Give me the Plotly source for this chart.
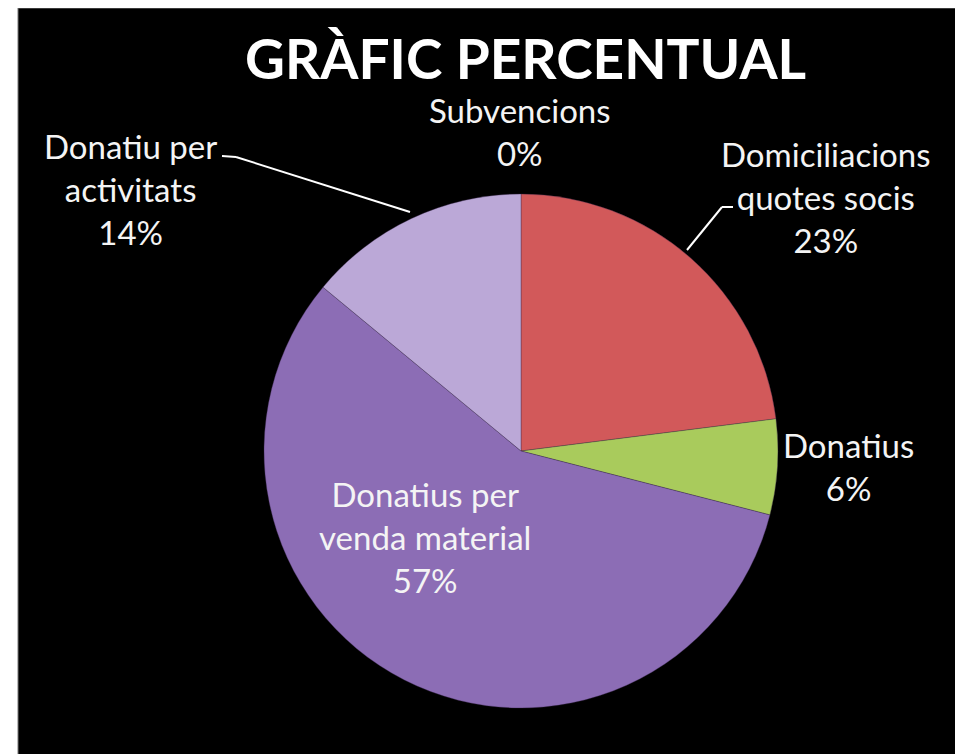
import plotly.graph_objects as go

# ---- data ----
categories = ["Subvencions", "Domiciliacions quotes socis", "Donatius",
              "Donatius per venda material", "Donatiu per activitats"]
display_labels = ["Subvencions", "Domiciliacions<br>quotes socis", "Donatius",
                  "Donatius per<br>venda material", "Donatiu per<br>activitats"]
values = [0, 23, 6, 57, 14]
colors = ["#4F81BD", "#D2595A", "#A9CB5C", "#8C6DB5", "#BBA8D7"]
title_text = "GRÀFIC PERCENTUAL"

W, H = 963, 754
OFF = 8  # page body margin offset

def px(x, y):
    return (x - OFF) / W, 1 - (y - OFF) / H

total = sum(values)
percents = [round(100 * v / total) for v in values]

# pie geometry (pixels, page coordinates)
cx, cy, r = 521, 451, 257
dx0, dy1 = px(cx - r, cy - r)
dx1, dy0 = px(cx + r, cy + r)

fig = go.Figure()
fig.add_trace(go.Pie(
    labels=categories,
    values=values,
    sort=False,
    direction="clockwise",
    rotation=0,
    marker=dict(colors=colors, line=dict(color="rgba(60,40,80,0.35)", width=1)),
    textinfo="none",
    hoverinfo="label+percent",
    showlegend=False,
    domain=dict(x=[dx0, dx1], y=[dy0, dy1]),
))

# background black panel
x0, _ = px(18, 7)
x1, _ = px(957, 754)
shapes = [dict(type="rect", xref="paper", yref="paper", x0=x0, x1=x1, y0=0, y1=1,
               fillcolor="black", line=dict(color="#777777", width=1), layer="below")]

# leader lines (pixel paths)
def line(pts):
    out = []
    for (a, b), (c, d) in zip(pts[:-1], pts[1:]):
        xa, ya = px(a, b)
        xc, yc = px(c, d)
        out.append(dict(type="line", xref="paper", yref="paper", x0=xa, y0=ya, x1=xc, y1=yc,
                        line=dict(color="white", width=2)))
    return out

shapes += line([(222, 156), (236, 157), (410, 212)])
shapes += line([(733, 207), (722, 207), (687, 250)])

# label positions (pixel centres), one per category
label_pos = [(520, 131), (826, 197), (848, 466), (425, 537), (130, 189)]
font_family = "Lato, 'Open Sans', sans-serif"
annotations = []
for lab, pct, (lx, ly) in zip(display_labels, percents, label_pos):
    ax, ay = px(lx, ly)
    annotations.append(dict(
        text=f"{lab}<br>{pct}%", x=ax, y=ay, xref="paper", yref="paper",
        xanchor="center", yanchor="middle", showarrow=False, align="center",
        font=dict(family=font_family, size=33, color="#F4F4F4")))

tx, ty = px(525, 58)
annotations.append(dict(
    text=f"<b>{title_text}</b>", x=tx, y=ty, xref="paper", yref="paper",
    xanchor="center", yanchor="middle", showarrow=False,
    font=dict(family=font_family, size=55, color="white")))

fig.update_layout(
    width=W, height=H,
    margin=dict(l=0, r=0, t=0, b=0),
    paper_bgcolor="white",
    plot_bgcolor="white",
    shapes=shapes,
    annotations=annotations,
)

fig.write_html("out.html")
